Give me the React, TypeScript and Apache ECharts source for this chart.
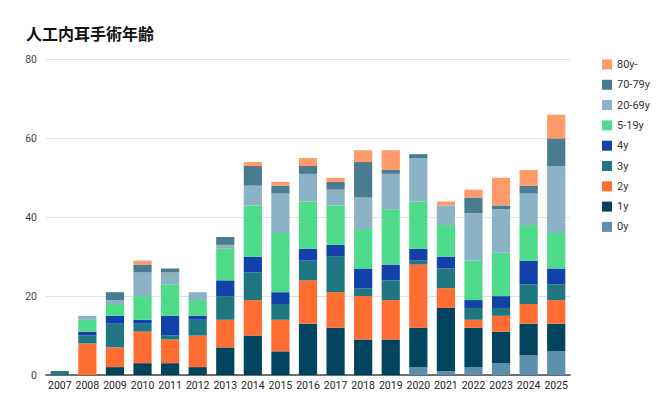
import React, { useEffect, useRef } from "react";
import * as echarts from "echarts";

const years = [
  "2007", "2008", "2009", "2010", "2011", "2012", "2013", "2014", "2015", "2016",
  "2017", "2018", "2019", "2020", "2021", "2022", "2023", "2024", "2025",
];

// Counts per age group, one value per year (2007 → 2025)
const age0 = [0, 0, 0, 0, 0, 0, 0, 0, 0, 0, 0, 0, 0, 2, 1, 2, 3, 5, 6];
const age1 = [0, 0, 2, 3, 3, 2, 7, 10, 6, 13, 12, 9, 9, 10, 16, 10, 8, 8, 7];
const age2 = [0, 8, 5, 8, 6, 8, 7, 9, 8, 11, 9, 11, 10, 16, 5, 2, 4, 5, 6];
const age3 = [1, 2, 6, 2, 1, 4, 6, 7, 4, 5, 9, 2, 5, 1, 5, 3, 2, 5, 4];
const age4 = [0, 1, 2, 1, 5, 1, 4, 4, 3, 3, 3, 5, 4, 3, 3, 2, 3, 6, 4];
const age5to19 = [0, 3, 3, 6, 8, 4, 8, 13, 15, 12, 10, 10, 14, 12, 8, 10, 11, 9, 9];
const age20to69 = [0, 1, 1, 6, 3, 2, 1, 5, 10, 7, 4, 8, 9, 11, 5, 12, 11, 8, 17];
const age70to79 = [0, 0, 2, 2, 1, 0, 2, 5, 2, 2, 2, 9, 1, 1, 0, 4, 1, 2, 7];
const age80plus = [0, 0, 0, 1, 0, 0, 0, 1, 1, 2, 1, 3, 5, 0, 1, 2, 7, 4, 6];

const groupNames = ["0y", "1y", "2y", "3y", "4y", "5-19y", "20-69y", "70-79y", "80y-"];
const groupValues = [age0, age1, age2, age3, age4, age5to19, age20to69, age70to79, age80plus];
const groupColors = [
  "#5b8fac", "#00445f", "#ff6d33", "#1f7782", "#1241a9",
  "#4edb8a", "#8cb2c6", "#4b7b8e", "#ff9a6a",
];

const yTicks = { min: 0, max: 80, interval: 20 };

export default function App() {
  const ref = useRef<HTMLDivElement>(null);

  useEffect(() => {
    if (!ref.current) return;
    const chart = echarts.init(ref.current, null, { renderer: "svg" });
    const font = "Roboto, 'Liberation Sans', Arial, sans-serif";

    chart.setOption({
      animation: false,
      backgroundColor: "#ffffff",
      title: {
        text: "人工内耳手術年齢",
        left: 21,
        top: 20,
        textStyle: {
          fontFamily: "'Noto Sans CJK JP', sans-serif",
          fontWeight: "bold",
          fontSize: 16,
          color: "#111111",
        },
      },
      legend: {
        orient: "vertical",
        left: 597,
        top: 54,
        itemWidth: 10,
        itemHeight: 10,
        itemGap: 9.3,
        icon: "rect",
        data: [...groupNames].reverse(),
        textStyle: { fontFamily: font, fontSize: 11, color: "#333333" },
      },
      grid: { left: 46, right: 95, top: 59.5, bottom: 37 },
      xAxis: {
        type: "category",
        data: years,
        axisTick: { show: false },
        axisLine: { lineStyle: { color: "#444444", width: 1.5 } },
        axisLabel: {
          interval: 0,
          fontFamily: font,
          fontSize: 10.5,
          color: "#222222",
          margin: 5,
        },
      },
      yAxis: {
        type: "value",
        min: yTicks.min,
        max: yTicks.max,
        interval: yTicks.interval,
        axisLine: { show: false },
        axisTick: { show: false },
        axisLabel: { fontFamily: font, fontSize: 10.5, color: "#444444", margin: 9 },
        splitLine: { lineStyle: { color: "#e2e2e2", width: 1 } },
      },
      series: groupNames.map((name, i) => ({
        name,
        type: "bar",
        stack: "total",
        barCategoryGap: "34%",
        data: groupValues[i],
        itemStyle: { color: groupColors[i] },
      })),
    });

    return () => chart.dispose();
  }, []);

  return (
    <div
      ref={ref}
      style={{ position: "fixed", left: 0, top: 0, width: 665, height: 412 }}
    />
  );
}
